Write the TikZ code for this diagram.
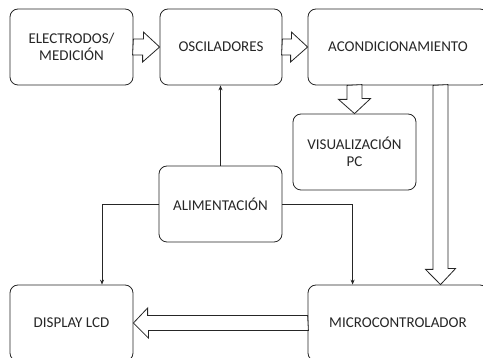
\documentclass[tikz,border=0pt]{standalone}
\usepackage{fontspec}
\setmainfont{Carlito}
\usetikzlibrary{calc,arrows.meta}
\begin{document}
\begin{tikzpicture}[x=1pt,y=-1pt,
  blk/.style={draw=black!85, line width=0.8pt, rounded corners=8pt, align=center,
    inner sep=0pt, font=\fontsize{15}{17.5}\selectfont, text=black!85},
  conn/.style={draw=black!85, line width=0.8pt, -{Stealth[length=5pt,width=4pt]}},
  hol/.style={draw=black!85, line width=0.8pt, fill=white}]
\useasboundingbox (0,0) rectangle (483,358);
\node[blk, minimum width=123pt, minimum height=76pt] (elec) at (71.5,47) {ELECTRODOS/\\MEDICIÓN};
\node[blk, minimum width=122pt, minimum height=76pt] (osc) at (221,47) {OSCILADORES};
\node[blk, minimum width=180pt, minimum height=76pt] (acon) at (398,47) {ACONDICIONAMIENTO};
\node[blk, minimum width=123pt, minimum height=76pt] (vis) at (354.5,152) {VISUALIZACIÓN\\PC};
\node[blk, minimum width=123pt, minimum height=76pt] (alim) at (220.5,204) {ALIMENTACIÓN};
\node[blk, minimum width=123pt, minimum height=76pt] (disp) at (71.5,323) {DISPLAY LCD};
\node[blk, minimum width=180pt, minimum height=76pt] (micro) at (398,323) {MICROCONTROLADOR};
% hollow arrows
\draw[hol] (elec.east) ++(0,-8) -- ++(10,0) -- ++(0,-7) -- (osc.west) -- ++(-17,15) -- ++(0,-7) -- ++(-10,0) -- cycle;
\draw[hol] (osc.east) ++(0,-8) -- ++(9,0) -- ++(0,-7) -- (acon.west) -- ++(-17,15) -- ++(0,-7) -- ++(-9,0) -- cycle;
\draw[hol] (vis.north |- acon.south) ++(-7.5,0) -- ++(0,14) -- ++(-8.5,0) -- (vis.north) -- ++(16,-15) -- ++(-8.5,0) -- ++(0,-14) -- cycle;
\coordinate (mtip) at ([xshift=42.5]micro.north);
\draw[hol] (mtip |- acon.south) ++(-7.5,0) -- ++(0,184) -- ++(-7.5,0) -- (mtip) -- ++(15,-16) -- ++(-7.5,0) -- ++(0,-184) -- cycle;
\draw[hol] (micro.west) ++(0,-7.5) -- ++(-160,0) -- ++(0,-7.5) -- (disp.east) -- ++(15,15) -- ++(0,-7.5) -- ++(160,0) -- cycle;
% connectors
\draw[conn] (alim.north) -- (osc.south -| alim.north);
\draw[conn] (alim.west) -| ([xshift=30.5]disp.north);
\draw[conn] (alim.east) -| ([xshift=45]micro.north west);
\end{tikzpicture}
\end{document}
